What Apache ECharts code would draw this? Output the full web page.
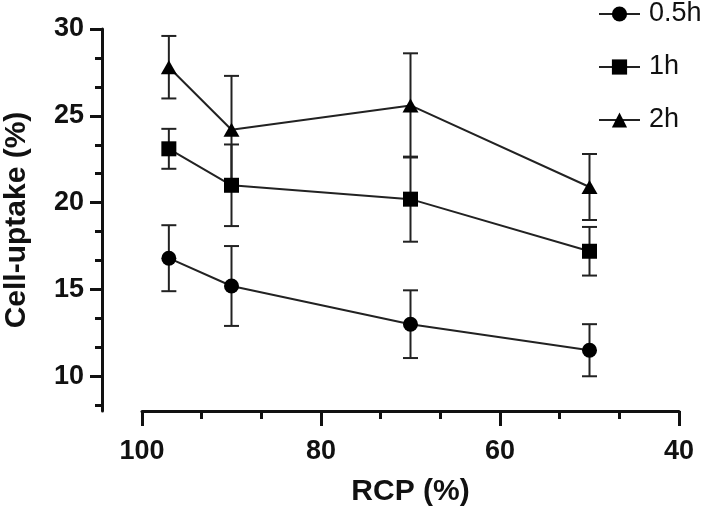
<!DOCTYPE html>
<html>
<head>
<meta charset="utf-8">
<script src="https://cdn.jsdelivr.net/npm/echarts@6/dist/echarts.min.js"></script>
<style>
html,body{margin:0;padding:0;background:#fff;}
#chart{width:708px;height:514px;}
</style>
</head>
<body>
<div id="chart"></div>
<script>
// ---- data ----
const rcp = [97, 90, 70, 50];
const seriesNames = ['0.5h', '1h', '2h'];
const uptake05 = [16.8, 15.2, 13.0, 11.5];
const err05 = [1.9, 2.3, 1.95, 1.5];
const uptake1 = [23.1, 21.0, 20.2, 17.2];
const err1 = [1.15, 2.35, 2.45, 1.4];
const uptake2 = [27.8, 24.2, 25.6, 20.9];
const err2 = [1.8, 3.1, 3.0, 1.9];
const yMajorTicks = [10, 15, 20, 25, 30];
const yMinorTicks = [8.333, 11.667, 13.333, 16.667, 18.333, 21.667, 23.333, 26.667, 28.333];

const FONT = '"Liberation Sans", Arial, Helvetica, sans-serif';
const INK = '#111';

function pts(vals) { return rcp.map((x, i) => [x, vals[i]]); }
function errData(vals, errs) { return rcp.map((x, i) => [x, vals[i] - errs[i], vals[i] + errs[i]]); }

function errRender(params, api) {
  const x = api.value(0);
  const lo = api.coord([x, api.value(1)]);
  const hi = api.coord([x, api.value(2)]);
  const hw = 7.5;
  const style = { stroke: '#222', lineWidth: 2 };
  return {
    type: 'group',
    children: [
      { type: 'line', shape: { x1: lo[0], y1: lo[1], x2: hi[0], y2: hi[1] }, style },
      { type: 'line', shape: { x1: lo[0] - hw, y1: lo[1], x2: lo[0] + hw, y2: lo[1] }, style },
      { type: 'line', shape: { x1: hi[0] - hw, y1: hi[1], x2: hi[0] + hw, y2: hi[1] }, style }
    ]
  };
}

const symbols = ['circle', 'rect', 'triangle'];
const symbolSizes = [15, 15, [16, 14]];
const values = [uptake05, uptake1, uptake2];
const errs = [err05, err1, err2];

const series = [];
values.forEach((v, k) => {
  series.push({
    type: 'custom',
    name: seriesNames[k] + '-err',
    renderItem: errRender,
    data: errData(v, errs[k]),
    encode: { x: 0, y: [1, 2] },
    z: 2,
    silent: true
  });
});
values.forEach((v, k) => {
  series.push({
    type: 'line',
    name: seriesNames[k],
    data: pts(v),
    symbol: symbols[k],
    symbolSize: symbolSizes[k],
    itemStyle: { color: '#000' },
    lineStyle: { color: '#222', width: 2 },
    z: 5
  });
});

const chart = echarts.init(document.getElementById('chart'), null, { renderer: 'canvas' });
chart.setOption({
  animation: false,
  backgroundColor: '#fff',
  textStyle: { fontFamily: FONT },
  grid: { left: 142, right: 29, top: 29, bottom: 103, containLabel: false, outerBoundsMode: 'none' },
  legend: {
    data: seriesNames,
    orient: 'vertical',
    left: 598,
    top: -1,
    padding: 0,
    itemWidth: 41,
    itemHeight: 19,
    itemGap: 23,
    textStyle: { fontFamily: FONT, fontSize: 27, color: INK, lineHeight: 30, padding: [0, 0, 0, 4] }
  },
  xAxis: {
    type: 'value',
    min: 40, max: 100, interval: 20,
    inverse: true,
    name: 'RCP (%)',
    nameLocation: 'middle',
    nameGap: 66,
    nameTextStyle: { fontFamily: FONT, fontSize: 30, fontWeight: 'bold', color: INK },
    axisLine: { show: true, lineStyle: { color: INK, width: 3 } },
    axisTick: { show: true, length: 15, lineStyle: { color: INK, width: 3 } },
    minorTick: { show: true, splitNumber: 3, length: 8, lineStyle: { color: INK, width: 3 } },
    axisLabel: { fontFamily: FONT, fontSize: 27, fontWeight: 'bold', color: INK, margin: 27 },
    splitLine: { show: false },
    minorSplitLine: { show: false }
  },
  yAxis: [{
    type: 'value',
    min: 8, max: 30,
    position: 'left',
    offset: 40,
    name: 'Cell-uptake (%)',
    nameLocation: 'middle',
    nameGap: 70,
    nameTextStyle: { fontFamily: FONT, fontSize: 30, fontWeight: 'bold', color: INK },
    axisLine: { show: true, lineStyle: { color: INK, width: 3 } },
    axisTick: { show: true, length: 12, customValues: yMajorTicks, lineStyle: { color: INK, width: 3 } },
    axisLabel: { fontFamily: FONT, fontSize: 27, fontWeight: 'bold', color: INK, margin: 18, customValues: yMajorTicks },
    splitLine: { show: false }
  }, {
    type: 'value',
    min: 8, max: 30,
    position: 'left',
    offset: 40,
    axisLine: { show: false },
    axisTick: { show: true, length: 7, customValues: yMinorTicks, lineStyle: { color: INK, width: 3 } },
    axisLabel: { show: false },
    splitLine: { show: false }
  }],
  series: series
});
</script>
</body>
</html>
